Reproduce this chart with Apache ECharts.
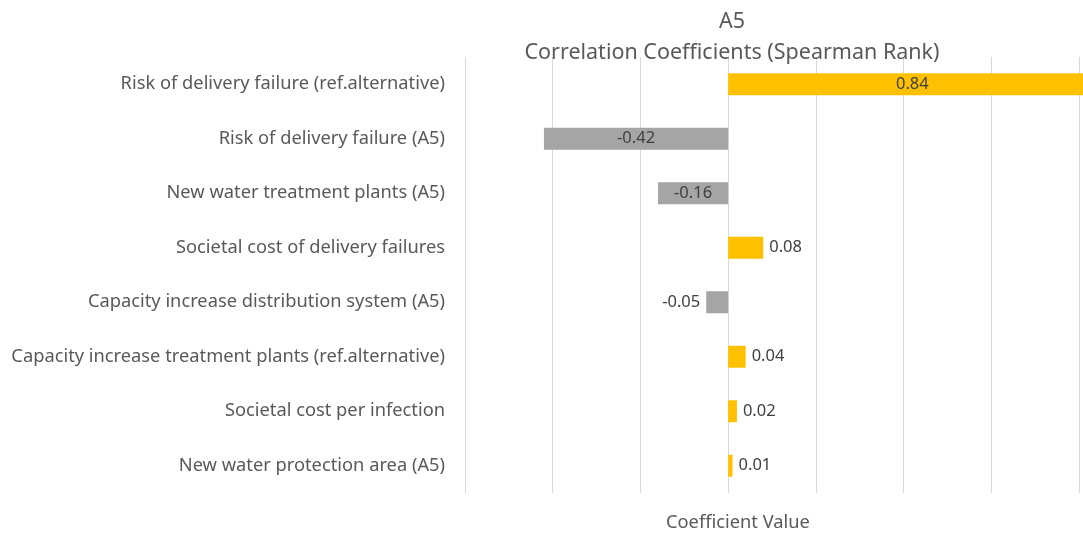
<!DOCTYPE html>
<html>
<head>
<meta charset="utf-8">
<script src="https://cdn.jsdelivr.net/npm/echarts@6/dist/echarts.min.js"></script>
<style>
  html, body { margin: 0; padding: 0; background: #fff; }
  #chart { width: 1083px; height: 534px; }
</style>
</head>
<body>
<div id="chart"></div>
<script>
// categories, top to bottom
let categories = [
    'Risk of delivery failure (ref.alternative)',
    'Risk of delivery failure (A5)',
    'New water treatment plants (A5)',
    'Societal cost of delivery failures',
    'Capacity increase distribution system (A5)',
    'Capacity increase treatment plants (ref.alternative)',
    'Societal cost per infection',
    'New water protection area (A5)'
];
let coefficients = [0.84, -0.42, -0.16, 0.08, -0.05, 0.04, 0.02, 0.01];
let xMin = -0.6, xMax = 0.8, xStep = 0.2;

let font = 'Noto Sans';
let posColor = '#FFC000', negColor = '#A5A5A5';

// big bars get the label in the middle, small ones outside the end
let barData = coefficients.map((v) => {
    let pos = Math.abs(v) >= 0.1 ? 'inside' : (v < 0 ? 'left' : 'right');
    return {
        value: v,
        itemStyle: {color: v < 0 ? negColor : posColor},
        label: {position: pos}
    };
});

let myChart = echarts.init(document.getElementById('chart'));
myChart.setOption({
    animation: false,
    title: {
        text: 'A5\nCorrelation Coefficients (Spearman Rank)',
        left: 727,
        top: 1,
        textAlign: 'center',
        textStyle: {fontFamily: font, fontSize: 21.5, fontWeight: 'normal', color: '#595959', lineHeight: 31}
    },
    grid: {left: 465, right: 4, top: 57, bottom: 41, containLabel: false},
    xAxis: {
        type: 'value',
        min: xMin,
        max: xMax,
        interval: xStep,
        axisLabel: {show: false},
        axisLine: {show: false},
        axisTick: {show: false},
        splitLine: {show: true, lineStyle: {color: '#D9D9D9', width: 1}}
    },
    yAxis: {
        type: 'category',
        inverse: true,
        data: categories,
        axisLine: {show: false},
        axisTick: {show: false},
        axisLabel: {margin: 20, fontFamily: font, fontSize: 18.3, color: '#595959'}
    },
    graphic: [{
        type: 'text',
        left: 666,
        top: 514,
        style: {text: 'Coefficient Value', fontFamily: font, fontSize: 18.3, fill: '#595959'}
    }],
    series: [{
        type: 'bar',
        data: barData,
        barWidth: 22,
        clip: false,
        label: {
            show: true,
            distance: 6,
            fontFamily: font,
            fontSize: 16.5,
            color: '#404040',
            formatter: (p) => p.value.toFixed(2)
        }
    }]
});
</script>
</body>
</html>
